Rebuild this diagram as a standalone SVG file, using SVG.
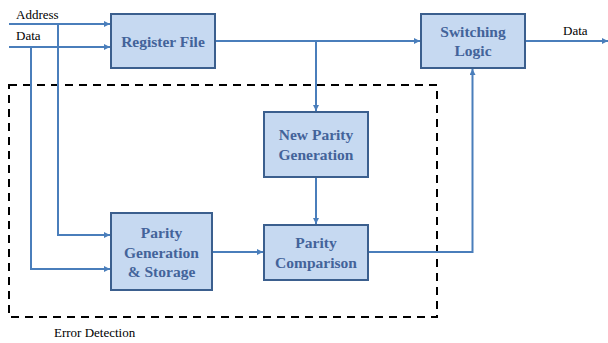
<svg xmlns="http://www.w3.org/2000/svg" width="608" height="343" viewBox="0 0 608 343">
<style>
.box{fill:#C6D9F1;stroke:#3B5F8E;stroke-width:2}
.bt{font-family:"Liberation Serif","Times New Roman",serif;font-weight:bold;font-size:15.5px;fill:#43639A;text-anchor:middle}
.lbl{font-family:"Liberation Serif","Times New Roman",serif;font-size:13px;fill:#000}
.ln{fill:none;stroke:#4A7EBB;stroke-width:2}
</style>
<defs>
<marker id="ah" viewBox="0 0 6 6" refX="6" refY="3" markerWidth="6" markerHeight="6" markerUnits="userSpaceOnUse" orient="auto">
<path d="M0,0 L6,3 L0,6 Z" fill="#4A7EBB"/>
</marker>
</defs>
<rect x="9" y="85" width="428" height="232" fill="none" stroke="#000" stroke-width="2" stroke-dasharray="8,6"/>
<g id="connectors">
<path class="ln" d="M9,24 H110" marker-end="url(#ah)"/>
<path class="ln" d="M9,47 H110" marker-end="url(#ah)"/>
<path class="ln" d="M58,24 V235 H110" marker-end="url(#ah)"/>
<path class="ln" d="M31,47 V269 H110" marker-end="url(#ah)"/>
<path class="ln" d="M215,41 H420" marker-end="url(#ah)"/>
<path class="ln" d="M316,41 V111" marker-end="url(#ah)"/>
<path class="ln" d="M316,177 V224" marker-end="url(#ah)"/>
<path class="ln" d="M212,252 H263" marker-end="url(#ah)"/>
<path class="ln" d="M368,252 H472.5 V69" marker-end="url(#ah)"/>
<path class="ln" d="M525,41 H608" marker-end="url(#ah)"/>
</g>
<g id="register-file">
<rect class="box" x="111" y="14" width="104" height="54"/>
<text class="bt" x="163" y="47">Register File</text>
</g>
<g id="switching-logic">
<rect class="box" x="421" y="14" width="104" height="54"/>
<text class="bt" x="473" y="37">Switching</text>
<text class="bt" x="473" y="56">Logic</text>
</g>
<g id="new-parity-generation">
<rect class="box" x="264" y="112" width="104" height="65"/>
<text class="bt" x="316" y="140">New Parity</text>
<text class="bt" x="316" y="159.5">Generation</text>
</g>
<g id="parity-comparison">
<rect class="box" x="264" y="225" width="104" height="55"/>
<text class="bt" x="316" y="248">Parity</text>
<text class="bt" x="316" y="268">Comparison</text>
</g>
<g id="parity-generation-storage">
<rect class="box" x="111" y="213" width="101" height="77"/>
<text class="bt" x="161.5" y="238">Parity</text>
<text class="bt" x="161.5" y="257.5">Generation</text>
<text class="bt" x="161.5" y="277">&amp; Storage</text>
</g>
<text class="lbl" x="16" y="19">Address</text>
<text class="lbl" x="16" y="40">Data</text>
<text class="lbl" x="563" y="35">Data</text>
<text class="lbl" x="54" y="337">Error Detection</text>
</svg>
